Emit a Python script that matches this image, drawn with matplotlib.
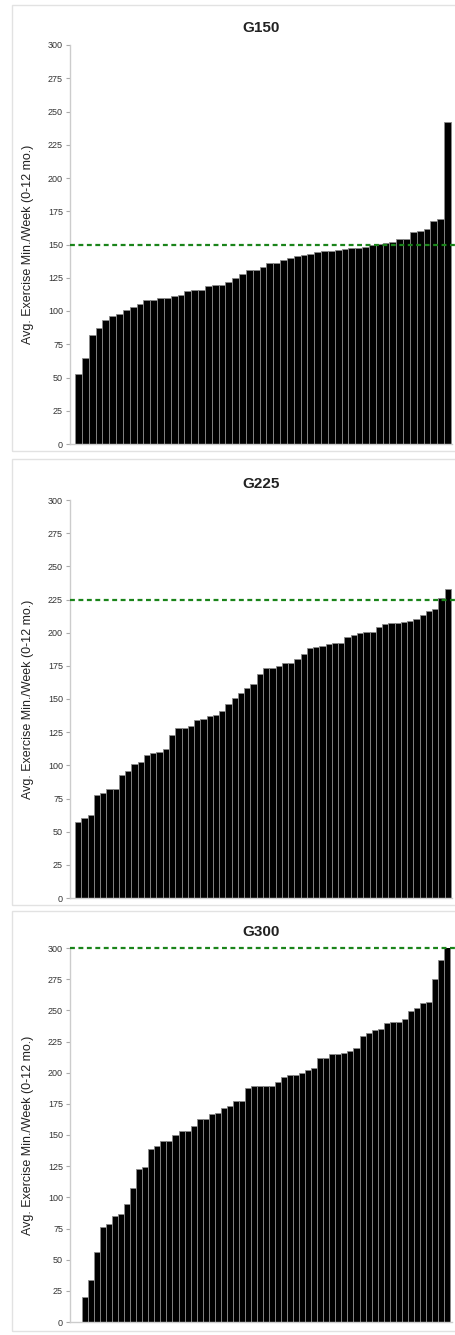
import numpy as np
import matplotlib.pyplot as plt
from matplotlib.patches import Rectangle

plt.rcParams["font.family"] = ["Liberation Sans", "DejaVu Sans"]

W, H = 456, 1335

titles = ["G150", "G225", "G300"]
targets = [150, 225, 300]

g150 = [53, 65, 82, 87, 93, 96, 98, 101, 103, 105, 108, 108, 109.5, 110, 111,
        112, 115, 116, 116, 119, 119.5, 119.5, 121.5, 124.5, 128, 131, 131, 133,
        136, 136, 138, 139.5, 141, 142, 143, 144.5, 145, 145, 146, 146.5, 147,
        147.5, 148, 149.5, 150.5, 151.5, 152, 154, 154.5, 159.5, 160, 162,
        167.5, 169.5, 242]

g225 = [57, 60.5, 62.5, 77.5, 79, 82.5, 82.5, 93, 96, 101, 102.5, 108, 109,
        110, 112, 123, 128, 128, 129.5, 134, 135, 137.5, 138, 141, 146, 151,
        154.5, 158, 161, 169, 173.5, 173.5, 175, 177, 177, 180.5, 184, 188.5,
        189, 190, 191.5, 192, 192, 197, 198.5, 199.5, 200.5, 200.5, 204, 206.5,
        207, 207, 208, 209, 210.5, 213, 216, 218, 226, 233]

g300 = [20, 33.5, 56, 76, 79, 85, 86.5, 95, 107.5, 122.5, 124, 138.5, 141.5,
        145.5, 145.5, 150, 153.5, 153.5, 157, 163, 163, 167, 168, 171.5, 173.5,
        177.5, 177.5, 187.5, 189.5, 189.5, 189.5, 189.5, 192.5, 196.5, 198, 198,
        199.5, 202, 204, 211.5, 212, 215, 215, 215.5, 217.5, 219.5, 229.5,
        231.5, 234.5, 235, 240, 241, 241, 243, 249.5, 252, 256, 256.5, 275, 290,
        301]

series = [g150, g225, g300]
yticks = list(range(0, 301, 25))
ylabel = "Avg. Exercise Min./Week (0-12 mo.)"

# pixel layout: (axes top, axes bottom, first bar left px, last bar right px)
axes_px = [(45, 444, 75, 451), (500, 898, 75, 451), (948, 1322, 82, 450)]
frames_px = [(5, 451), (459, 905), (911, 1331)]
AX_L, AX_R = 70, 452

fig = plt.figure(figsize=(W / 100, H / 100), dpi=100)

for (ftop, fbot) in frames_px:
    fig.patches.append(Rectangle((12 / W, 1 - fbot / H), (W - 10) / W, (fbot - ftop) / H,
                                 transform=fig.transFigure, facecolor="none",
                                 edgecolor="#e2e2e2", linewidth=1.0, zorder=-1))

for vals, title, target, (top, bot, b0, b1) in zip(series, titles, targets, axes_px):
    ax = fig.add_axes([AX_L / W, 1 - bot / H, (AX_R - AX_L) / W, (bot - top) / H])
    ax.patch.set_alpha(0)
    n = len(vals)
    x = np.arange(n)
    ax.bar(x, vals, width=1.0, color="black", edgecolor="#8a8a8a", linewidth=0.6)

    bw = (b1 - b0) / n
    ax.set_xlim(-0.5 - (b0 - AX_L) / bw, n - 0.5 + (AX_R - b1) / bw)
    ax.set_ylim(0, 300)
    ax.set_yticks(yticks)
    ax.set_xticks([])
    ax.tick_params(axis="y", labelsize=6.5, labelcolor="#333333", color="#aaaaaa",
                   length=3, width=0.8, pad=2)

    ax.axhline(target, color="#1a841a", linestyle=(0, (2.2, 1.6)), linewidth=1.6,
               xmax=1.02, clip_on=False, zorder=5)

    for s in ["top", "right"]:
        ax.spines[s].set_visible(False)
    for s in ["left", "bottom"]:
        ax.spines[s].set_color("#cccccc")
        ax.spines[s].set_linewidth(1.0)

    ax.set_ylabel(ylabel, fontsize=9, color="#222222", labelpad=10)
    ax.set_title(title, fontsize=11, fontweight="bold", color="#222222", pad=9)

fig.savefig("out.png", dpi=100)
